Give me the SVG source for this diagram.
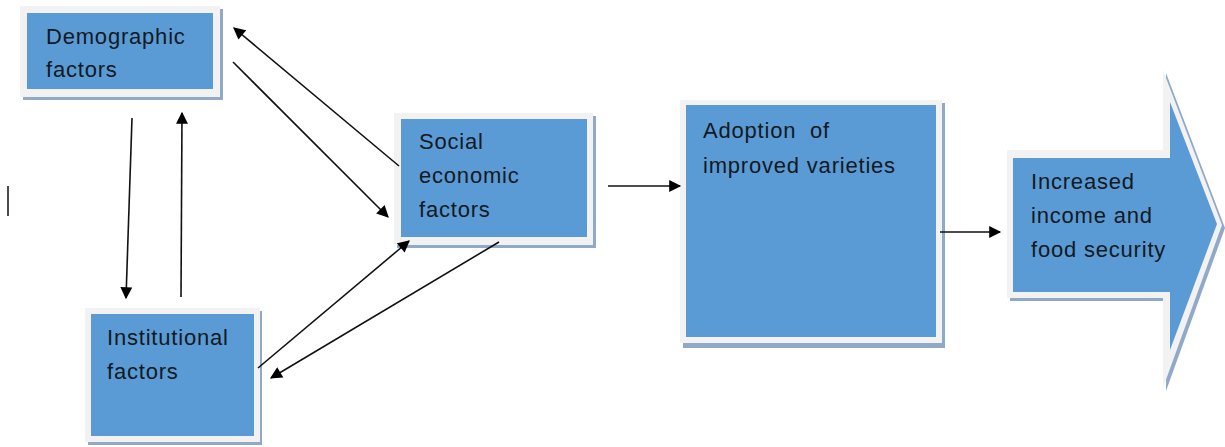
<svg xmlns="http://www.w3.org/2000/svg" width="1225" height="447" viewBox="0 0 1225 447">
<style>
.shadow{fill:#8fa9c6}
.frame{fill:#f2f2f2}
.fill{fill:#5b9bd5}
.t{font-family:"Liberation Sans",Arial,sans-serif;font-size:22px;letter-spacing:0.8px;fill:#111a22}
.c{stroke:#111;stroke-width:1.6;fill:none;marker-end:url(#ah)}
</style>
<defs>
<marker id="ah" viewBox="0 0 10 10" refX="9" refY="5" markerWidth="14" markerHeight="12" markerUnits="userSpaceOnUse" orient="auto">
<path d="M0,0 L10,5 L0,10 z" fill="#000"/>
</marker>
</defs>
<rect width="1225" height="447" fill="#fff"/>
<line x1="8" y1="186" x2="8" y2="216" stroke="#111" stroke-width="1.5"/>
<g id="demographic">
<rect class="shadow" x="23" y="9" width="200" height="91"/>
<rect class="frame" x="20" y="6" width="200" height="91"/>
<rect class="fill" x="27" y="13" width="186" height="76"/>
<text class="t" x="46" y="44">Demographic</text>
<text class="t" x="46" y="77">factors</text>
</g>
<g id="social">
<rect class="shadow" x="397" y="116" width="199" height="132"/>
<rect class="frame" x="394" y="113" width="199" height="132"/>
<rect class="fill" x="401" y="119" width="186" height="118"/>
<text class="t" x="419" y="149">Social</text>
<text class="t" x="419" y="183">economic</text>
<text class="t" x="419" y="217">factors</text>
</g>
<g id="institutional">
<rect class="shadow" x="88" y="311" width="174" height="134"/>
<rect class="frame" x="85" y="308" width="175" height="134"/>
<rect class="fill" x="91" y="314" width="163" height="122"/>
<text class="t" x="107" y="345">Institutional</text>
<text class="t" x="107" y="379">factors</text>
</g>
<g id="adoption">
<rect class="shadow" x="683" y="103" width="262" height="245"/>
<rect class="frame" x="680" y="100" width="262" height="243"/>
<rect class="fill" x="686" y="105" width="250" height="232"/>
<text class="t" x="703" y="138" xml:space="preserve">Adoption  of</text>
<text class="t" x="703" y="173">improved varieties</text>
</g>
<g id="outcome">
<path class="shadow" d="M1010,153 L1166,153 L1166,73 L1225,228 L1166,391 L1166,301 L1010,301 z"/>
<path class="frame" d="M1007,150 L1163,150 L1163,70 L1222,225 L1163,388 L1163,298 L1007,298 z"/>
<path class="fill" d="M1013,158 L1170,158 L1170,102 L1217,224 L1170,350 L1170,292 L1013,292 z"/>
<text class="t" x="1031" y="189">Increased</text>
<text class="t" x="1031" y="223">income and</text>
<text class="t" x="1031" y="257">food security</text>
</g>
<g id="connectors">
<line class="c" x1="132" y1="118" x2="126" y2="298"/>
<line class="c" x1="181" y1="297" x2="182" y2="113"/>
<line class="c" x1="399" y1="166" x2="234" y2="28"/>
<line class="c" x1="233" y1="62" x2="388" y2="217"/>
<line class="c" x1="258" y1="368" x2="409" y2="241"/>
<line class="c" x1="499" y1="242" x2="271" y2="378"/>
<line class="c" x1="608" y1="186" x2="680" y2="186"/>
<line class="c" x1="940" y1="232" x2="1000" y2="232"/>
</g>
</svg>
